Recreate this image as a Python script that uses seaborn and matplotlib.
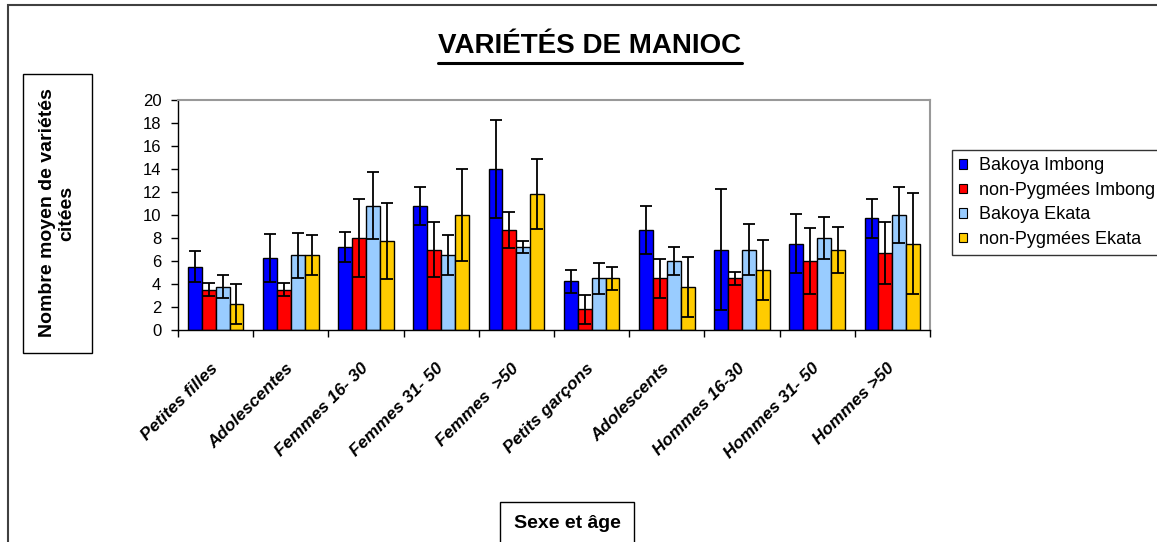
import numpy as np
import pandas as pd
import seaborn as sns
import matplotlib.pyplot as plt
from matplotlib.patches import Rectangle, Patch
from matplotlib.lines import Line2D
from matplotlib.transforms import ScaledTranslation

# =========================
# Data
# =========================
categories = ["Petites filles", "Adolescentes", "Femmes 16- 30", "Femmes 31- 50",
              "Femmes  >50", "Petits garçons", "Adolescents", "Hommes 16-30",
              "Hommes 31- 50", "Hommes >50"]
series = ["Bakoya Imbong", "non-Pygmées Imbong", "Bakoya Ekata", "non-Pygmées Ekata"]
colors = ["#0000FF", "#FF0000", "#99CCFF", "#FFCC00"]

bakoya_imbong = [5.5, 6.25, 7.25, 10.8, 14.0, 4.25, 8.7, 7.0, 7.5, 9.7]
nonpyg_imbong = [3.5, 3.5, 8.0, 7.0, 8.7, 1.8, 4.5, 4.5, 6.0, 6.7]
bakoya_ekata = [3.75, 6.5, 10.8, 6.5, 7.2, 4.5, 6.0, 7.0, 8.0, 10.0]
nonpyg_ekata = [2.25, 6.5, 7.75, 10.0, 11.8, 4.5, 3.75, 5.25, 7.0, 7.5]

err_bakoya_imbong = [1.35, 2.1, 1.3, 1.65, 4.3, 1.0, 2.1, 5.25, 2.55, 1.7]
err_nonpyg_imbong = [0.55, 0.55, 3.4, 2.4, 1.55, 1.25, 1.7, 0.56, 2.9, 2.7]
err_bakoya_ekata = [1.0, 1.95, 2.9, 1.75, 0.5, 1.35, 1.2, 2.2, 1.8, 2.45]
err_nonpyg_ekata = [1.75, 1.75, 3.3, 4.0, 3.05, 1.0, 2.6, 2.6, 2.0, 4.4]

values = [bakoya_imbong, nonpyg_imbong, bakoya_ekata, nonpyg_ekata]
errors = [err_bakoya_imbong, err_nonpyg_imbong, err_bakoya_ekata, err_nonpyg_ekata]

df = pd.DataFrame({
    "groupe": categories * len(series),
    "serie": [s for s in series for _ in categories],
    "valeur": [v for vals in values for v in vals],
})

# =========================
# Plot
# =========================
sns.set_style("white")
plt.rcParams["font.family"] = ["Liberation Sans", "DejaVu Sans"]
plt.rcParams["text.color"] = "black"
plt.rcParams["xtick.color"] = "black"
plt.rcParams["ytick.color"] = "black"
plt.rcParams["axes.labelcolor"] = "black"

W, H = 1157, 542
fig = plt.figure(figsize=(W / 100, H / 100), dpi=100)
ax = fig.add_axes([178 / W, 1 - 330 / H, (930 - 178) / W, 230 / H])

sns.barplot(data=df, x="groupe", y="valeur", hue="serie", order=categories,
            hue_order=series, palette=colors, width=0.74, gap=0,
            errorbar=None, edgecolor="black", linewidth=1, legend=False,
            saturation=1, ax=ax)

# error bars on top of the seaborn bars
for cont, errs in zip(ax.containers, errors):
    xs = [p.get_x() + p.get_width() / 2 for p in cont]
    ys = [p.get_height() for p in cont]
    ax.errorbar(xs, ys, yerr=errs, fmt="none", ecolor="black",
                elinewidth=1.3, capsize=4, capthick=1.3, zorder=5)

ax.set_xlim(-0.5, len(categories) - 0.5)
ax.set_ylim(0, 20)
ax.set_yticks(np.arange(0, 21, 2))
ax.set_xlabel("")
ax.set_ylabel("")

ax.set_xticks(range(len(categories)))
ax.set_xticklabels(categories, rotation=45, ha="right", va="center",
                   rotation_mode="anchor", fontweight="bold",
                   fontstyle="italic", fontsize=12.5)
# shift the slanted labels a bit to the left, like Excel does
shift = ScaledTranslation(-11 / 100, 0, fig.dpi_scale_trans)
for lab in ax.get_xticklabels():
    lab.set_transform(lab.get_transform() + shift)
ax.set_xticks(np.arange(-0.5, len(categories), 1), minor=True)
ax.tick_params(axis="x", which="major", length=0, pad=26)
ax.tick_params(axis="x", which="minor", length=5, width=1, color="black",
               direction="out", bottom=True)
ax.tick_params(axis="y", length=5, width=1, color="black", direction="out",
               left=True, labelsize=12, pad=7)

for side in ["left", "bottom"]:
    ax.spines[side].set_color("black")
    ax.spines[side].set_linewidth(1)
for side in ["top", "right"]:
    ax.spines[side].set_color("#999999")
    ax.spines[side].set_linewidth(1.5)

# legend
handles = [Patch(facecolor=c, edgecolor="black", linewidth=0.8) for c in colors]
leg = fig.legend(handles, series, loc="upper left",
                 bbox_to_anchor=(952 / W, 1 - 150 / H), fontsize=13,
                 frameon=True, fancybox=False, edgecolor="black",
                 handlelength=0.45, handleheight=0.45, handletextpad=0.65,
                 labelspacing=0.42, borderaxespad=0, borderpad=0.4)
leg.get_frame().set_linewidth(1)

# title with underline
title = fig.text(590 / W, 1 - 46 / H, "VARIÉTÉS DE MANIOC", fontsize=20,
                 fontweight="bold", ha="center", va="center",
                 family=["Liberation Sans Narrow", "Liberation Sans"])
fig.canvas.draw()
bb = title.get_window_extent().transformed(fig.transFigure.inverted())
fig.add_artist(Line2D([bb.x0, bb.x1], [1 - 63 / H, 1 - 63 / H],
                      transform=fig.transFigure, color="black", lw=2.2))

# y label in a box
fig.patches.append(Rectangle((23 / W, 1 - 353 / H), 69 / W, 279 / H,
                             transform=fig.transFigure, fill=False,
                             edgecolor="black", lw=1))
fig.text(57 / W, 1 - 213 / H, "Nombre moyen de variétés\ncitées",
         rotation=90, ha="center", va="center", multialignment="center",
         fontweight="bold", fontsize=14, linespacing=1.15)

# x label in a box
fig.patches.append(Rectangle((500 / W, 1 - 548 / H), 134 / W, 46 / H,
                             transform=fig.transFigure, fill=False,
                             edgecolor="black", lw=1))
fig.text(567 / W, 1 - 524 / H, "Sexe et âge", ha="center", va="center",
         fontweight="bold", fontsize=14)

# outer chart frame
fig.patches.append(Rectangle((8 / W, -0.1), 1.2, 1.1 - 5 / H,
                             transform=fig.transFigure, fill=False,
                             edgecolor="#404040", lw=1.5))

plt.savefig("out.png", dpi=100)
